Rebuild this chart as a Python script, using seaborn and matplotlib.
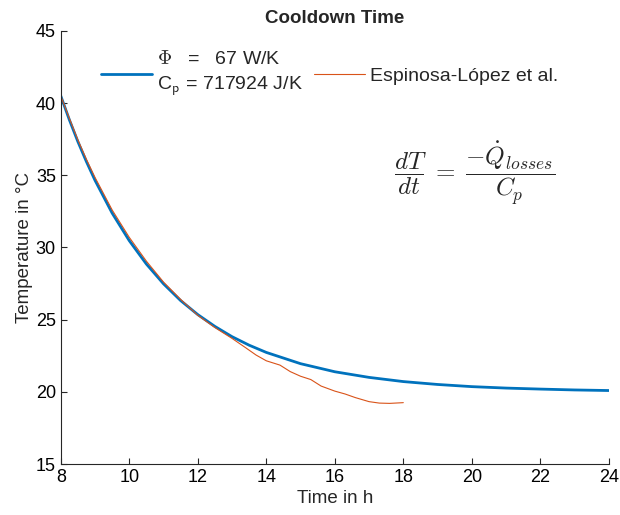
import pandas as pd
import seaborn as sns
import matplotlib.pyplot as plt

# model curve
model_hours = [8, 8.25, 8.5, 8.75, 9, 9.5, 10, 10.5, 11, 11.5, 12, 12.5, 13, 13.5, 14, 15,
               16, 17, 18, 19, 20, 21, 22, 23, 24]
model_temp = [40.5, 38.85, 37.33, 35.94, 34.65, 32.38, 30.47, 28.85, 27.48, 26.32, 25.35,
              24.53, 23.82, 23.23, 22.73, 21.95, 21.39, 21.0, 20.71, 20.51, 20.36, 20.26,
              20.19, 20.13, 20.09]

# measured curve, Espinosa-Lopez et al.
meas_hours = [8, 8.25, 8.5, 8.75, 9, 9.5, 10, 10.5, 11, 11.5, 12, 12.5, 13, 13.4, 13.7,
              14.0, 14.2, 14.4, 14.7, 15.0, 15.3, 15.6, 16.0, 16.3, 16.6, 17.0, 17.3,
              17.6, 18.0]
meas_temp = [40.5, 38.95, 37.45, 36.1, 34.85, 32.6, 30.7, 29.05, 27.6, 26.4, 25.3, 24.45,
             23.7, 23.05, 22.55, 22.15, 22.0, 21.85, 21.4, 21.08, 20.85, 20.4, 20.05,
             19.85, 19.6, 19.32, 19.22, 19.2, 19.25]

model_label = "$\\Phi$   =   67 W/K\nC$_\\mathsf{p}$ = 717924 J/K"
meas_label = "Espinosa-López et al."

df_model = pd.DataFrame({"Time": model_hours, "Temp": model_temp})
df_meas = pd.DataFrame({"Time": meas_hours, "Temp": meas_temp})

sns.set_style("white")
plt.rcParams["font.family"] = ["Liberation Sans", "DejaVu Sans"]
plt.rcParams["font.size"] = 13

fig = plt.figure(figsize=(6.2, 5.15), dpi=100)
ax = fig.add_axes([0.098, 0.099, 0.884, 0.841])

sns.lineplot(data=df_model, x="Time", y="Temp", ax=ax, color="#0072BD", lw=2.0,
             label=model_label)
sns.lineplot(data=df_meas, x="Time", y="Temp", ax=ax, color="#D95319", lw=0.8,
             label=meas_label)

ax.set_xlim(8, 24)
ax.set_ylim(15, 45)
ax.set_xticks(range(8, 25, 2))
ax.set_yticks(range(15, 46, 5))
ax.tick_params(direction="in", length=4, width=0.8, colors="#262626", labelsize=13,
               labelcolor="black", left=True, bottom=True)
for side in ["top", "right"]:
    ax.spines[side].set_visible(False)
for side in ["left", "bottom"]:
    ax.spines[side].set_color("#262626")
    ax.spines[side].set_linewidth(0.8)

ax.set_xlabel("Time in h", fontsize=13.5, labelpad=3)
ax.set_ylabel("Temperature in °C", fontsize=13.5, labelpad=2)
ax.set_title("Cooldown Time", fontsize=13.5, fontweight="bold", pad=6)

leg = ax.legend(loc="center", bbox_to_anchor=(0.491, 0.9), ncol=2, frameon=False,
                handlelength=2.6, handletextpad=0.3, columnspacing=0.55, fontsize=14,
                borderpad=0, borderaxespad=0)
leg.get_texts()[0].set_math_fontfamily("cm")
leg.get_texts()[0].set_linespacing(1.4)

ax.text(0.755, 0.672, r"$\dfrac{dT}{dt}\;=\;\dfrac{-\dot{Q}_{losses}}{C_p}$",
        transform=ax.transAxes, ha="center", va="center", fontsize=18,
        math_fontfamily="cm")

fig.savefig("out.png", dpi=100)
